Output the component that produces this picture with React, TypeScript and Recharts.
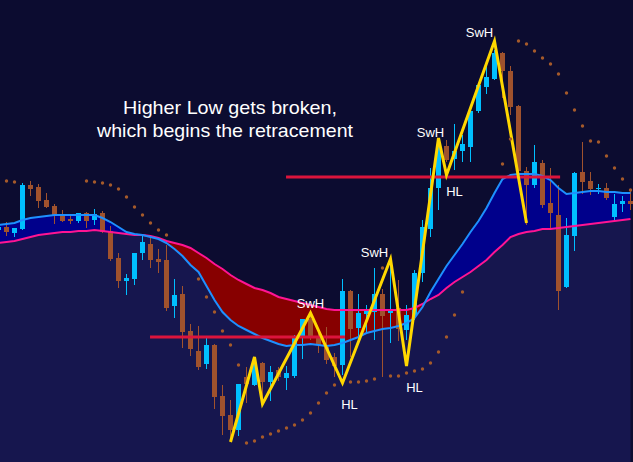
import { ComposedChart, XAxis, YAxis, Area, Bar, Line, Scatter } from "recharts";

// candle prices, one per bar starting at bar -1 (partly off the left edge)
const opens = [
  232,
  235, 229, 233, 277, 275, 262, 256, 246, 243, 241,
  249, 242, 249, 231, 204, 181, 183, 209, 218, 203,
  202, 156, 168, 131, 111, 98, 117, 66, 47, 32,
  85, 77, 99, 80, 92, 84, 86, 125, 143, 126,
  115, 105, 97, 171, 134, 148, 150, 168, 149, 154,
  132, 146, 189, 233, 274, 316, 303, 311, 315, 351,
  375, 383, 409, 391, 356, 291, 277, 299, 259, 247,
  175, 226, 290, 281, 273, 274, 245, 258, 261,
];
const highs = [
  237,
  240, 234, 279, 281, 278, 269, 258, 252, 248, 249,
  250, 253, 251, 236, 209, 188, 209, 226, 227, 213,
  217, 183, 176, 138, 136, 126, 118, 77, 62, 78,
  95, 105, 100, 96, 95, 96, 127, 143, 146, 132,
  135, 109, 183, 172, 168, 157, 194, 173, 202, 182,
  157, 192, 242, 294, 316, 322, 338, 327, 355, 378,
  396, 412, 410, 396, 357, 295, 317, 302, 294, 277,
  244, 290, 320, 290, 278, 279, 268, 266, 273,
];
const lows = [
  229,
  226, 225, 232, 266, 254, 254, 238, 240, 238, 239,
  234, 237, 229, 201, 174, 167, 177, 202, 194, 189,
  151, 144, 114, 106, 92, 93, 53, 27, 22, 26,
  59, 76, 58, 61, 81, 72, 84, 103, 122, 109,
  98, 85, 87, 105, 123, 130, 122, 85, 119, 121,
  122, 142, 180, 225, 252, 300, 292, 300, 300, 349,
  368, 382, 364, 347, 290, 237, 274, 254, 232, 152,
  174, 211, 268, 267, 268, 262, 242, 250, 252,
];
const closes = [
  235,
  230, 234, 277, 273, 261, 255, 246, 241, 241, 249,
  241, 248, 230, 203, 181, 184, 209, 220, 202, 200,
  154, 167, 130, 113, 95, 117, 65, 46, 32, 78,
  78, 99, 80, 90, 85, 89, 126, 143, 125, 117,
  102, 96, 171, 133, 149, 152, 168, 146, 152, 133,
  147, 189, 235, 274, 316, 302, 311, 318, 351, 377,
  385, 409, 391, 355, 291, 277, 300, 257, 249, 171,
  227, 289, 280, 273, 274, 264, 258, 261, 258,
];

// fast and slow moving averages
const fastMa = [
  237,
  238, 239, 242, 244, 245, 246, 247, 247, 247, 247,
  247, 247, 244, 240, 235, 230, 228, 227, 225, 223,
  219, 213, 206, 197, 190, 176, 162, 150, 142, 136,
  132, 128, 124, 121, 118, 116, 117, 117, 118, 117,
  116, 117, 119, 122, 125, 129, 131, 133, 134, 136,
  139, 144, 155, 170, 183, 196, 207, 218, 230, 241,
  254, 269, 283, 287, 288, 288, 288, 286, 282, 274,
  268, 269, 270, 271, 271, 270, 270, 269, 269,
];
const slowMa = [
  219,
  220, 221, 223, 225, 227, 228, 229, 230, 230, 231,
  231, 232, 231, 230, 229, 228, 227, 227, 226, 224,
  221, 219, 217, 214, 209, 204, 198, 193, 187, 182,
  178, 174, 172, 169, 165, 163, 161, 159, 157, 155,
  153, 152, 152, 152, 152, 152, 152, 152, 152, 152,
  152, 154, 158, 163, 167, 174, 180, 185, 190, 196,
  202, 210, 217, 225, 228, 230, 231, 233, 233, 234,
  235, 236, 237, 238, 239, 240, 241, 242, 243,
];

// parabolic SAR (null where no dot shows)
const sar = [
  null,
  281, 280, null, null, null, null, null, null, null, null,
  281, 280, 279, 277, 273, 265, 255, 247, 239, 232,
  227, null, null, null, 183, 165, 150, 131, 117, 97,
  19, 21, 25, 28, 31, 34, 37, 42, 49, 59,
  69, 77, null, 80, 80, 81, 83, 194, 86, 86,
  89, 91, 93, 99, 110, 125, 147, 170, null, null,
  null, null, 298, 323, 421, 418, 411, 404, 398, 388,
  369, 352, 336, 321, 320, 306, 294, 283, 272,
];

// zigzag swing points (bar index, price)
const zigzagBars = [28, 31, 32, 38, 42, 48, 50, 54, 55, 61, 65];
const zigzagPrices = [20, 105, 58, 149, 79, 203, 96, 324, 287, 421, 239];

// labelled swings
const swingBars = [38, 42, 48, 50, 54, 55, 61];
const swingNames = ["SwH", "HL", "SwH", "HL", "SwH", "HL", "SwH"];

// horizontal levels
const levelPrices = [125, 285];
const levelFrom = [17.94, 34.94];
const levelTo = [42.3, 69.2];

const UP = "#00bfff";
const DOWN = "#a0522d";
const FONT = "'Liberation Sans', Arial, sans-serif";
const labelShift = [
  [0, -5], [7, 26], [-16, -2], [8, 26], [-8, -1], [8, 21], [-15, -4],
];

const bars = opens.map((o, n) => ({
  i: n - 1,
  open: o,
  high: highs[n],
  low: lows[n],
  close: closes[n],
  fast: fastMa[n],
  slow: slowMa[n],
  lower: Math.min(fastMa[n], slowMa[n]),
}));
const sarPoints = sar
  .map((p, n) => ({ i: n - 1, p }))
  .filter((d) => d.p !== null);
const zigzag = zigzagBars.map((b, k) => ({ i: b, p: zigzagPrices[k] }));
const swings = swingBars.map((b, k) => ({
  i: b,
  p: zigzagPrices[zigzagBars.indexOf(b)],
  name: swingNames[k],
  k,
}));
const levels = levelPrices.map((p, k) => [
  { i: levelFrom[k], p },
  { i: levelTo[k], p },
]);

const Candle = (props: any) => {
  const { x, y, width, height, payload } = props;
  const { open, close, high, low } = payload;
  const cx = Math.round(x + width / 2 - 0.5) + 0.5;
  const k = height / (high - low);
  const yOf = (v: number) => y + (high - v) * k;
  const color = close >= open ? UP : DOWN;
  const top = yOf(Math.max(open, close));
  const bot = yOf(Math.min(open, close));
  return (
    <g>
      <rect x={cx - 0.5} y={y} width={1} height={height} fill={color} />
      <rect x={cx - 2.5} y={top} width={5} height={Math.max(1, bot - top)} fill={color} />
    </g>
  );
};

const SarDot = (props: any) => (
  <circle cx={props.cx} cy={props.cy} r={1.7} fill="#a55a2a" />
);

const SwingLabel = (props: any) => {
  const { cx, cy, payload } = props;
  const [dx, dy] = labelShift[payload.k];
  return (
    <text
      x={cx + dx}
      y={cy + dy}
      textAnchor="middle"
      fontFamily={FONT}
      fontSize={13}
      fill="#ffffff"
    >
      {payload.name}
    </text>
  );
};

export default function App() {
  return (
    <div
      style={{
        position: "absolute",
        left: 0,
        top: 0,
        width: 633,
        height: 462,
        background: "#0c0c30",
        overflow: "hidden",
      }}
    >
      <ComposedChart
        width={633}
        height={462}
        data={bars}
        margin={{ top: 0, right: 0, bottom: 0, left: 0 }}
      >
        <XAxis
          dataKey="i"
          type="number"
          domain={[-0.8125, 78.3125]}
          allowDataOverflow
          hide
        />
        <YAxis type="number" domain={[0, 462]} allowDataOverflow hide />

        <Area
          dataKey="lower"
          type="linear"
          baseValue={0}
          fill="#16164e"
          fillOpacity={1}
          stroke="none"
          activeDot={false}
          isAnimationActive={false}
        />
        <Scatter data={sarPoints} dataKey="p" shape={SarDot} isAnimationActive={false} />
        <Area
          dataKey={(d: any) => [d.slow, Math.max(d.fast, d.slow)]}
          type="linear"
          fill="#00008b"
          fillOpacity={1}
          stroke="none"
          activeDot={false}
          isAnimationActive={false}
        />
        <Area
          dataKey={(d: any) => [d.fast, Math.max(d.fast, d.slow)]}
          type="linear"
          fill="#870000"
          fillOpacity={1}
          stroke="none"
          activeDot={false}
          isAnimationActive={false}
        />
        <Line
          dataKey="slow"
          type="linear"
          stroke="#ff1493"
          strokeWidth={2}
          dot={false}
          activeDot={false}
          isAnimationActive={false}
        />
        <Line
          dataKey="fast"
          type="linear"
          stroke="#1e90ff"
          strokeWidth={2}
          dot={false}
          activeDot={false}
          isAnimationActive={false}
        />
        {levels.map((seg, k) => (
          <Line
            key={k}
            data={seg}
            dataKey="p"
            type="linear"
            stroke="#dc143c"
            strokeWidth={3}
            dot={false}
            activeDot={false}
            isAnimationActive={false}
          />
        ))}
        <Bar
          dataKey={(d: any) => [d.low, d.high]}
          barSize={5}
          shape={Candle}
          activeBar={false}
          isAnimationActive={false}
        />
        <Line
          data={zigzag}
          dataKey="p"
          type="linear"
          stroke="#ffd700"
          strokeWidth={3}
          dot={false}
          activeDot={false}
          isAnimationActive={false}
        />
        <Scatter data={swings} dataKey="p" shape={SwingLabel} isAnimationActive={false} />
      </ComposedChart>
      <svg
        width={633}
        height={462}
        style={{ position: "absolute", left: 0, top: 0, pointerEvents: "none" }}
      >
        <text
          x={123}
          y={114}
          fontFamily={FONT}
          fontSize={19}
          textLength={214}
          lengthAdjust="spacingAndGlyphs"
          fill="#ffffff"
        >
          Higher Low gets broken,
        </text>
        <text
          x={97}
          y={137}
          fontFamily={FONT}
          fontSize={19}
          textLength={256}
          lengthAdjust="spacingAndGlyphs"
          fill="#ffffff"
        >
          which begins the retracement
        </text>
      </svg>
    </div>
  );
}
